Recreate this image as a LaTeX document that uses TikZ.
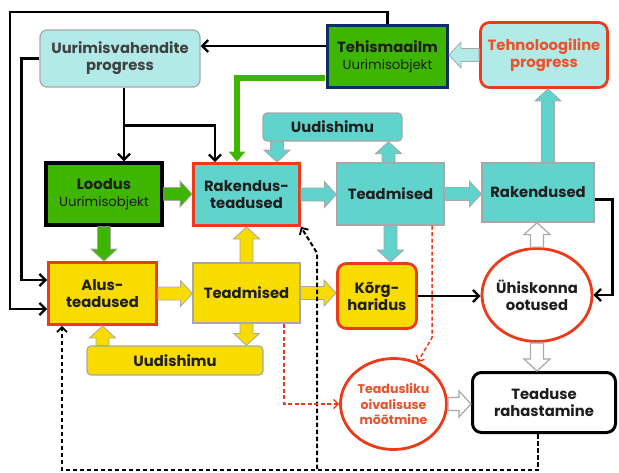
\documentclass[tikz,border=0pt]{standalone}
\usepackage{fontspec}
\setmainfont{Poppins}
\usetikzlibrary{calc,arrows.meta,shapes.geometric}
\definecolor{lcyan}{RGB}{178,234,232}
\definecolor{cyanb}{RGB}{96,211,204}
\definecolor{grn}{RGB}{62,182,0}
\definecolor{yel}{RGB}{248,220,0}
\definecolor{redb}{RGB}{236,58,26}
\definecolor{navy}{RGB}{16,44,100}
\definecolor{gry}{RGB}{168,168,168}
\definecolor{txt}{RGB}{30,30,30}
\definecolor{redt}{RGB}{234,82,42}
\newcommand{\fasw}{6.5pt}
\newcommand{\fahw}{13pt}
\newcommand{\fahl}{12pt}
\newcommand{\fatarrow}[3]{%
 \coordinate (fas) at #2;
 \coordinate (fae) at #3;
 \coordinate (fam) at ($(fae)!\fahl!(fas)$);
 \draw[#1] ($(fas)!\fasw!90:(fae)$) -- ($(fam)!\fasw!-90:(fas)$) -- ($(fam)!\fahw!-90:(fas)$) -- (fae) -- ($(fam)!\fahw!90:(fas)$) -- ($(fam)!\fasw!90:(fas)$) -- ($(fas)!\fasw!-90:(fae)$) -- cycle;
}
\newcommand{\sub}[1]{{\fontsize{13.2}{16}\selectfont\mdseries #1}}
\begin{document}
\begin{tikzpicture}[x=1pt,y=-1pt,
  every node/.style={align=center,text=txt,font=\fontsize{14.8}{17}\selectfont\bfseries,inner sep=0pt},
  cbox/.style={fill=cyanb,draw=gry,line width=1.2pt},
  ybox/.style={fill=yel,draw=gry,line width=1.2pt},
  redframe/.style={draw=redb,line width=2.8pt},
  oval/.style={ellipse,fill=white,redframe,inner sep=-14pt},
  blk/.style={draw=black,line width=2.7pt,-{Straight Barb[length=6pt,width=12pt,line width=2.3pt]}},
  blkdash/.style={draw=black,line width=2pt,dash pattern=on 4.5pt off 2.5pt,-{Straight Barb[length=5pt,width=10pt,line width=1.8pt]}},
  reddash/.style={draw=redb,line width=1.5pt,dash pattern=on 4pt off 2.5pt,-{Straight Barb[length=4.5pt,width=9pt,line width=1.4pt]}},
  cyarr/.style={fill=cyanb,draw=gry,line width=0.8pt},
  lcyarr/.style={fill=lcyan,draw=gry,line width=0.8pt},
  yarr/.style={fill=yel,draw=gry,line width=0.8pt},
  garr/.style={fill=grn,draw=gry,line width=0.8pt},
  harr/.style={fill=white,draw=gry,line width=1.2pt},
]
\useasboundingbox (0,0) rectangle (619,472);
\fill[white] (0,0) rectangle (619,472);

% nodes
\node[fill=lcyan,draw=gry,line width=1.2pt,rounded corners=7pt,minimum width=160pt,minimum height=57pt,text=txt!85] (uvp) at (120,58.5) {Uurimisvahendite\\progress};
\node[fill=grn,draw=navy,line width=3pt,minimum width=120pt,minimum height=62pt] (teh) at (387.5,56.5) {Tehismaailm\\\sub{Uurimisobjekt}};
\node[fill=lcyan,redframe,rounded corners=9pt,minimum width=127pt,minimum height=65pt,text=redt] (tnp) at (544,55) {Tehnoloogiline\\progress};
\node[fill=grn,draw=black,line width=3.4pt,minimum width=116pt,minimum height=62pt] (lood) at (104,194) {Loodus\\\sub{Uurimisobjekt}};
\node[fill=cyanb,redframe,minimum width=106pt,minimum height=62pt] (rakt) at (246.5,194.5) {Rakendus-\\teadused};
\node[cbox,rounded corners=4pt,minimum width=139pt,minimum height=28pt] (uud1) at (332.5,127) {Uudishimu};
\node[cbox,minimum width=107pt,minimum height=62pt] (tmc) at (390.5,194) {Teadmised};
\node[cbox,minimum width=112pt,minimum height=59pt] (rak) at (538,192.5) {Rakendused};
\node[fill=yel,redframe,minimum width=108pt,minimum height=62pt] (alus) at (102.5,293.5) {Alus-\\teadused};
\node[ybox,minimum width=107pt,minimum height=60pt] (tmy) at (246.5,293) {Teadmised};
\node[ybox,rounded corners=4pt,minimum width=176pt,minimum height=29pt] (uud2) at (175,360.5) {Uudishimu};
\node[fill=yel,redframe,rounded corners=9pt,minimum width=79pt,minimum height=65pt] (korg) at (377,296) {Kõrg-\\haridus};
\node[oval,minimum width=110pt,minimum height=93pt] (uhis) at (537,295) {Ühiskonna\\ootused};
\node[oval,minimum width=106pt,minimum height=91pt,text=redt,font=\fontsize{12.6}{15.5}\selectfont\bfseries] (tom) at (393.5,404) {Teadusliku\\oivalisuse\\mõõtmine};
\node[fill=white,draw=black,line width=3pt,rounded corners=9pt,minimum width=143pt,minimum height=60pt] (tr) at (544,402.5) {Teaduse\\rahastamine};

% helper coordinates
\coordinate (c1) at ($(teh.west)+(0,-10.5)$);
\coordinate (br) at ($(uvp.south)+(4,38)$);
\coordinate (a1) at ($(uud1.south)+(-55.5,0)$);
\coordinate (a2) at ($(tmc.north)+(-2,0)$);
\coordinate (a3) at ($(rak.north)+(10,0)$);
\coordinate (dj) at ($(tr.south)+(-6,36)$);
\coordinate (dk) at (317,469);

% black connectors
\draw[blk] (c1) -- (c1 -| uvp.east);
\draw[blk] (teh.north) |- (10,12) |- ($(alus.west)+(0,15.5)$);
\draw[blk] (uvp.west) -- ++(-18,0) |- ($(alus.west)+(0,-13.5)$);
\draw[blk] ($(uvp.south)+(4,0)$) -- ($(lood.north)+(20,0)$);
\draw[blk] (br) -| ($(rakt.north)+(-31.5,0)$);
\draw[blk] ($(rak.east)+(0,7)$) -- ++(18,0) |- (uhis.east);
\draw[blk] (korg.east) -- (korg.east -| uhis.west);

% green elbow
\draw[draw=grn,line width=5.5pt,-{Triangle[length=10pt,width=16pt]}] ($(teh.west)+(-1,21.5)$) -| ($(rakt.north)+(-9.5,-0.5)$);

% fat arrows
\fatarrow{lcyarr}{(tnp.west)}{(tnp.west -| teh.east)}
\fatarrow{garr}{(lood.east)}{(lood.east -| rakt.west)}
\fatarrow{garr}{(lood.south)}{(lood.south |- alus.north)}
\fatarrow{cyarr}{(a1)}{(a1 |- rakt.north)}
\fatarrow{cyarr}{(a2)}{(a2 |- uud1.south)}
\fatarrow{cyarr}{(rakt.east)}{(rakt.east -| tmc.west)}
\fatarrow{cyarr}{(tmc.east)}{(tmc.east -| rak.west)}
\fatarrow{cyarr}{(a3)}{(a3 |- tnp.south)}
\fatarrow{cyarr}{(tmc.south)}{(tmc.south |- korg.north)}
\fatarrow{yarr}{(alus.east)}{(alus.east -| tmy.west)}
\fatarrow{yarr}{(tmy.north)}{(tmy.north |- rakt.south)}
\fatarrow{yarr}{(tmy.east)}{(tmy.east -| korg.west)}
\fatarrow{yarr}{(tmy.south)}{(tmy.south |- uud2.north)}
\fatarrow{yarr}{(uud2.north -| alus.south)}{(alus.south)}
\fatarrow{harr}{(uhis.north)}{(uhis.north |- rak.south)}
\fatarrow{harr}{(uhis.south)}{(uhis.south |- tr.north)}
\fatarrow{harr}{(tom.east)}{(tom.east -| tr.west)}

% dashed connectors
\draw[blkdash] ($(tr.south)+(-6,0)$) -- (dj) -| ($(alus.south)+(-40.5,0)$);
\draw[blkdash] (dk) -- ++(0,-216) -- (rakt.south east);
\draw[reddash] ($(tmc.south)+(41.5,0)$) -- ++(0,112) -- (tom.60);
\draw[reddash] ($(tmy.south)+(37.5,0)$) |- (tom.west);
\end{tikzpicture}
\end{document}
